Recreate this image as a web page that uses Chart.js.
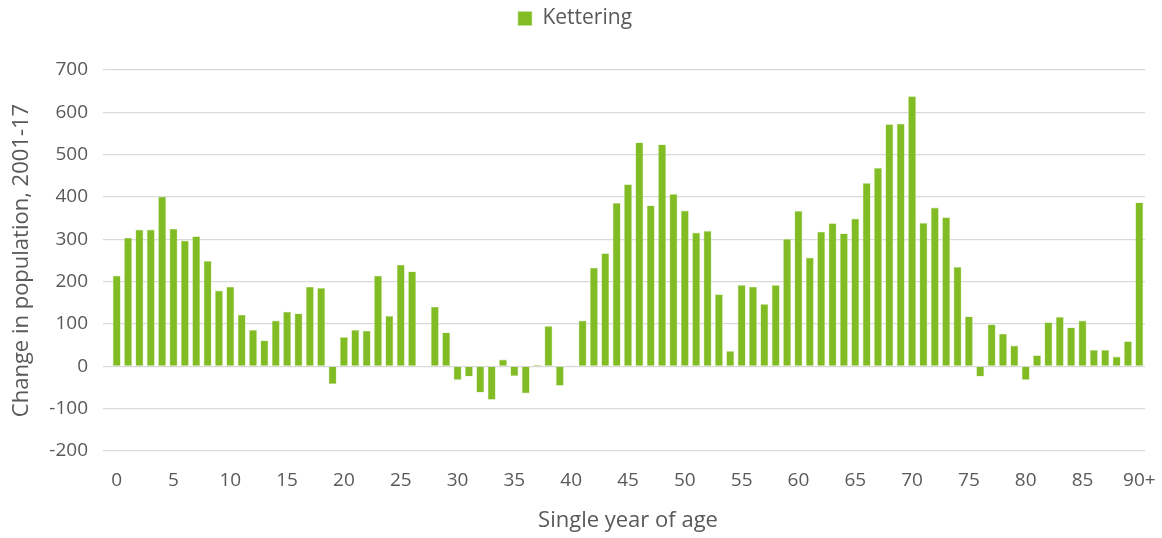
<!DOCTYPE html>
<html>
<head>
<meta charset="utf-8">
<script src="https://cdn.jsdelivr.net/npm/chart.js@4"></script>
<style>
  html, body { margin: 0; padding: 0; background: #fff; }
  #wrap { width: 1162px; height: 538px; }
</style>
</head>
<body>
<div id="wrap"><canvas id="popChart" width="1162" height="538"></canvas></div>
<script>
// single year of age, 0..89 then 90+
const ages = [];
for (let a = 0; a < 90; a++) ages.push(String(a));
ages.push('90+');

// change in population 2001-17
const kettering = [
  214, 304, 323, 323, 401, 325, 297, 307, 249, 179,
  188, 122, 86, 61, 108, 129, 125, 188, 185, -42,
  69, 86, 84, 214, 119, 240, 224, 0, 141, 80,
  -32, -24, -62, -79, 16, -23, -64, 4, 95, -46,
  2, 108, 233, 267, 386, 430, 529, 380, 524, 407,
  368, 316, 320, 170, 36, 192, 188, 147, 192, 301,
  367, 257, 318, 338, 314, 349, 433, 469, 572, 573,
  638, 339, 375, 352, 235, 118, -24, 99, 77, 49,
  -32, 26, 104, 117, 92, 108, 39, 39, 23, 59,
  387
];

const yTicks = [-200, -100, 0, 100, 200, 300, 400, 500, 600, 700];

const textColor = '#595959';
const font = 'Open Sans';

// extra gap between legend and plot
const legendGap = {
  id: 'legendGap',
  beforeInit(chart) {
    const fit = chart.legend.fit;
    chart.legend.fit = function() {
      fit.bind(chart.legend)();
      this.height += 31;
    };
  }
};

const ctx = document.getElementById('popChart').getContext('2d');
new Chart(ctx, {
  type: 'bar',
  data: {
    labels: ages,
    datasets: [{
      label: 'Kettering',
      data: kettering,
      backgroundColor: '#82bc24',
      borderColor: '#c9e4a0',
      borderWidth: 0.6,
      barPercentage: 0.7,
      categoryPercentage: 1.0
    }]
  },
  plugins: [legendGap],
  options: {
    responsive: false,
    animation: false,
    layout: { padding: { left: 5, right: 17, top: 0, bottom: 0 } },
    plugins: {
      legend: {
        position: 'top',
        labels: {
          color: textColor,
          font: { family: font, size: 21 },
          boxWidth: 14,
          boxHeight: 14,
          padding: 8
        }
      },
      tooltip: { enabled: false }
    },
    scales: {
      x: {
        afterFit: axis => {
          axis.height = 87;
          axis.paddingRight = 0;
        },
        grid: { display: false },
        border: { display: false },
        ticks: {
          color: textColor,
          font: { family: font, size: 19 },
          autoSkip: false,
          maxRotation: 0,
          padding: 10,
          callback: function(value, index) {
            const lab = ages[index];
            return (index % 5 === 0 || index === ages.length - 1) ? lab : '';
          }
        },
        title: {
          display: true,
          text: 'Single year of age',
          color: textColor,
          font: { family: font, size: 22 },
          padding: { top: 4, bottom: 4 }
        }
      },
      y: {
        min: yTicks[0],
        max: yTicks[yTicks.length - 1],
        afterBuildTicks: axis => { axis.ticks = yTicks.map(v => ({ value: v })); },
        afterFit: axis => { axis.width = 106; },
        grid: { color: '#d9d9d9', lineWidth: 1.2 },
        border: { display: false },
        ticks: {
          color: textColor,
          font: { family: font, size: 19 },
          padding: 15
        },
        title: {
          display: true,
          text: 'Change in population, 2001-17',
          color: textColor,
          font: { family: font, size: 22 }
        }
      }
    }
  }
});
</script>
</body>
</html>
